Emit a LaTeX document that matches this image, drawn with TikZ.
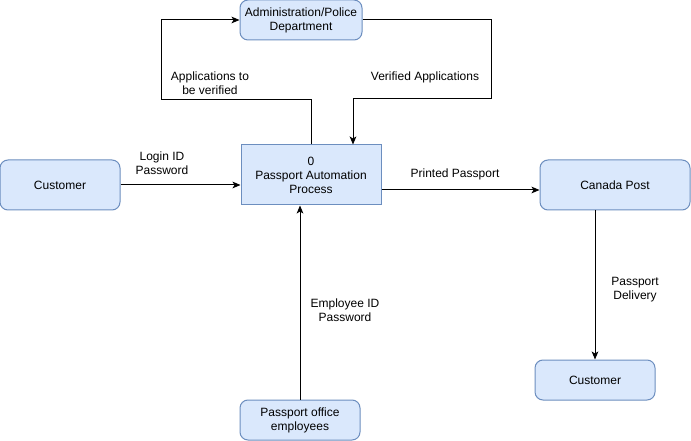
\documentclass[tikz,border=0pt]{standalone}
\usepackage{fontspec}
\setmainfont{Liberation Sans}
\usetikzlibrary{arrows.meta}
\definecolor{boxfill}{HTML}{DAE8FC}
\definecolor{boxdraw}{HTML}{6C8EBF}
\tikzset{
  box/.style={draw=boxdraw, fill=boxfill, rounded corners=6pt, line width=0.75pt, align=center, inner sep=0pt, font=\fontsize{9}{10.5}\selectfont},
  procbox/.style={box, rounded corners=0pt},
  lbl/.style={align=center, inner sep=0pt, font=\fontsize{9}{10.5}\selectfont},
  arr/.style={draw=black, line width=0.75pt, -{Stealth[length=6pt,width=5pt,inset=1.5pt]}}
}
\begin{document}
\begin{tikzpicture}[x=0.75pt,y=-0.75pt]
\useasboundingbox[fill=white] (0,0) rectangle (691,441);
\node[box, minimum width=91.5pt, minimum height=30pt] (admin) at (301,20) {Administration/Police\\Department};
\node[box, minimum width=90pt, minimum height=37.5pt] (custL) at (60,185) {Customer};
\node[procbox, minimum width=105pt, minimum height=45pt] (proc) at (311,175) {0\\Passport Automation\\Process};
\node[box, minimum width=112.5pt, minimum height=37.5pt] (canada) at (615,185) {Canada Post};
\node[box, minimum width=90pt, minimum height=30pt] (custR) at (595,380) {Customer};
\node[box, minimum width=90pt, minimum height=30pt] (emp) at (300,420) {Passport office\\employees};

\draw[arr] (proc.north) -- ++(0,-45) -- ++(-150,0) |- (admin.west);
\draw[arr] (admin.east) -- ++(129,0) -- ++(0,79) -| ([xshift=31.5pt]proc.north);
\draw[arr] (custL.east) -- (proc.west |- custL.east);
\draw[arr] ([yshift=-11.25pt]proc.east) -- ([yshift=-3.75pt]canada.west);
\draw[arr] (canada.south -| custR.north) -- (custR.north);
\draw[arr] (emp.north) -- (emp.north |- proc.south);

\node[lbl] (l1) at (210,83) {Applications to\\be verified};
\node[lbl] (l2) at (425,77) {Verified Applications};
\node[lbl] (l3) at (162,163) {Login ID\\Password};
\node[lbl] (l4) at (455,174) {Printed Passport};
\node[lbl] (l5) at (635,290) {Passport\\Delivery};
\node[lbl] (l6) at (345,310) {Employee ID\\Password};
\end{tikzpicture}
\end{document}
